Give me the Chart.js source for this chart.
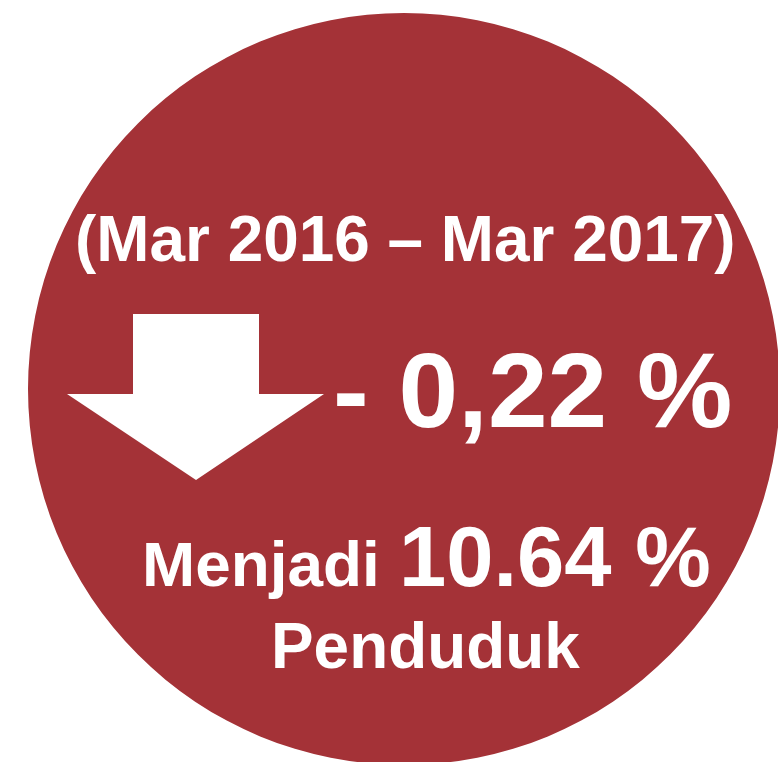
<!DOCTYPE html>
<html>
<head>
<meta charset="utf-8">
<script src="https://cdn.jsdelivr.net/npm/chart.js@4/dist/chart.umd.min.js"></script>
<style>
  html, body { margin: 0; padding: 0; background: #fff; }
  #wrap { width: 778px; height: 762px; overflow: hidden; position: relative; }
  #poverty-chart { position: absolute; left: 0; top: 0; }
</style>
</head>
<body>
<div id="wrap">
  <canvas id="poverty-chart" width="808" height="778" style="width:808px;height:778px"></canvas>
</div>
<script>
const categories = ['Mar 2017'];
const povertyRate = [10.64];
const rateChange = [-0.22];
const periodLabel = '(Mar 2016 – Mar 2017)';
const rateWord = 'Menjadi';
const unitLabel = 'Penduduk';

const circleColor = '#a43237';

function changeText(v) {
    return (v < 0 ? '- ' : '+ ') + Math.abs(v).toFixed(2).replace('.', ',') + ' %';
}

// draws text so its ink spans left..right, with the given cap height
function fitText(ctx, text, capHeight, left, right, baseline) {
    var size = capHeight / 0.716;
    ctx.font = 'bold ' + size + 'px "Liberation Sans", Arial, sans-serif';
    var m = ctx.measureText(text);
    var inkW = m.actualBoundingBoxLeft + m.actualBoundingBoxRight;
    var sx = (right - left) / inkW;
    ctx.save();
    ctx.translate(left, baseline);
    ctx.scale(sx, 1);
    ctx.textAlign = 'left';
    ctx.textBaseline = 'alphabetic';
    ctx.fillText(text, m.actualBoundingBoxLeft, 0);
    ctx.restore();
}

const overlay = {
    id: 'overlay',
    afterDraw(chart) {
        var ctx = chart.ctx;
        ctx.save();
        ctx.fillStyle = '#ffffff';

        // down arrow
        ctx.beginPath();
        ctx.moveTo(133, 314);
        ctx.lineTo(259, 314);
        ctx.lineTo(259, 394);
        ctx.lineTo(324, 394);
        ctx.lineTo(196, 480);
        ctx.lineTo(67, 394);
        ctx.lineTo(133, 394);
        ctx.closePath();
        ctx.fill();

        fitText(ctx, periodLabel, 46.5, 78, 733, 261);
        fitText(ctx, changeText(rateChange[0]), 76, 337, 730, 427);
        fitText(ctx, rateWord, 45.5, 146, 376, 586);
        fitText(ctx, povertyRate[0].toFixed(2) + ' %', 61, 404, 709, 586);
        fitText(ctx, unitLabel, 46, 275, 580, 668);
        ctx.restore();
    }
};

var ctx = document.getElementById('poverty-chart');
var povertyChart = new Chart(ctx, {
    type: 'pie',
    data: {
        labels: categories,
        datasets: [{
            data: povertyRate,
            backgroundColor: [circleColor],
            borderWidth: 0
        }]
    },
    options: {
        responsive: false,
        animation: false,
        events: [],
        layout: { padding: { top: 13, bottom: 13, left: 28, right: 28 } },
        plugins: {
            legend: { display: false },
            tooltip: { enabled: false }
        }
    },
    plugins: [overlay]
});
</script>
</body>
</html>
